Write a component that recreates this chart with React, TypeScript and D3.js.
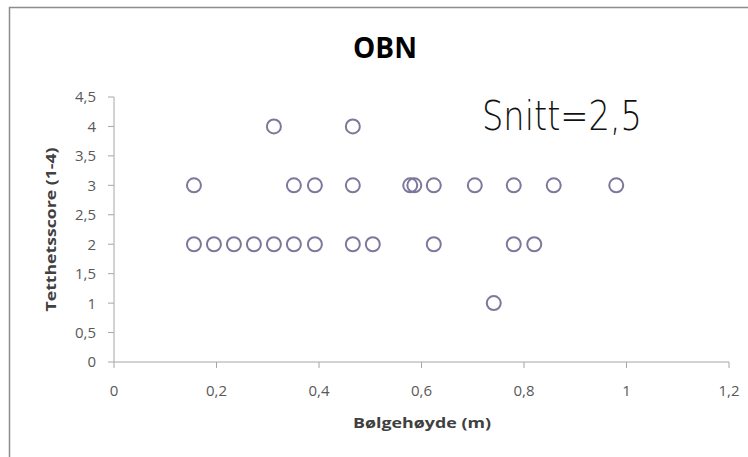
import React from "react";
import * as d3 from "d3";

const xValues = [
  0.156, 0.351, 0.392, 0.466, 0.578, 0.586, 0.624, 0.704, 0.78, 0.858, 0.98,
  0.156, 0.195, 0.234, 0.273, 0.312, 0.351, 0.392, 0.466, 0.505, 0.624, 0.78, 0.82,
  0.312, 0.466,
  0.741,
];
const yValues = [
  3, 3, 3, 3, 3, 3, 3, 3, 3, 3, 3,
  2, 2, 2, 2, 2, 2, 2, 2, 2, 2, 2, 2,
  4, 4,
  1,
];
const xTicks = [0, 0.2, 0.4, 0.6, 0.8, 1, 1.2];
const yTicks = [0, 0.5, 1, 1.5, 2, 2.5, 3, 3.5, 4, 4.5];
const title = "OBN";
const note = "Snitt=2,5";
const xLabel = "Bølgehøyde (m)";
const yLabel = "Tetthetsscore (1-4)";

const fmt = (v: number) => String(v).replace(".", ",");

export default function App() {
  const W = 748, H = 457;
  const x = d3.scaleLinear().domain([0, 1.2]).range([114, 729]);
  const y = d3.scaleLinear().domain([0, 4.5]).range([362, 97]);
  const axisColor = "#a6a6a6";
  const textColor = "#595959";
  const font = "'Open Sans', 'Liberation Sans', sans-serif";
  return (
    <svg width={W} height={H} style={{ position: "absolute", left: 0, top: 0, background: "#fff" }}>
      <rect x={0} y={0} width={W} height={H} fill="#fff" />
      <path d="M9.5,470 V7.5 H760" fill="none" stroke="#8c8c8c" strokeWidth={1.5} />
      <text x={385} y={58} textAnchor="middle" fontFamily={font} fontWeight="bold" fontSize={28} fill="#000">{title}</text>
      <text x={482} y={130} fontFamily="'DejaVu Sans', sans-serif" fontWeight={200} fontSize={41} fill="#111" textLength={160} lengthAdjust="spacingAndGlyphs">{note}</text>
      {/* y axis */}
      <line x1={x(0)} x2={x(0)} y1={y(4.5)} y2={y(0)} stroke={axisColor} strokeWidth={1} />
      {yTicks.map((t) => (
        <g key={"y" + t}>
          <line x1={x(0) - 6} x2={x(0)} y1={y(t)} y2={y(t)} stroke={axisColor} />
          <text x={x(0) - 18} y={y(t)} dy="0.36em" textAnchor="end" fontFamily={font} fontSize={15} fill={textColor}>{fmt(t)}</text>
        </g>
      ))}
      {/* x axis */}
      <line x1={x(0)} x2={x(1.2)} y1={y(0)} y2={y(0)} stroke={axisColor} strokeWidth={1} />
      {xTicks.map((t) => (
        <g key={"x" + t}>
          <line x1={x(t)} x2={x(t)} y1={y(0)} y2={y(0) + 6} stroke={axisColor} />
          <text x={x(t)} y={y(0) + 34} textAnchor="middle" fontFamily={font} fontSize={15} fill={textColor}>{fmt(t)}</text>
        </g>
      ))}
      <text x={422} y={428} textAnchor="middle" fontFamily={font} fontWeight="bold" fontSize={14} fill="#404040" textLength={138} lengthAdjust="spacingAndGlyphs">{xLabel}</text>
      <text transform={`translate(56,${y(2.25)}) rotate(-90)`} textAnchor="middle" fontFamily={font} fontWeight="bold" fontSize={15} fill="#404040" textLength={164} lengthAdjust="spacingAndGlyphs">{yLabel}</text>
      {xValues.map((v, i) => (
        <circle key={i} cx={x(v)} cy={y(yValues[i])} r={7} fill="none" stroke="#7e779c" strokeWidth={2} />
      ))}
    </svg>
  );
}
